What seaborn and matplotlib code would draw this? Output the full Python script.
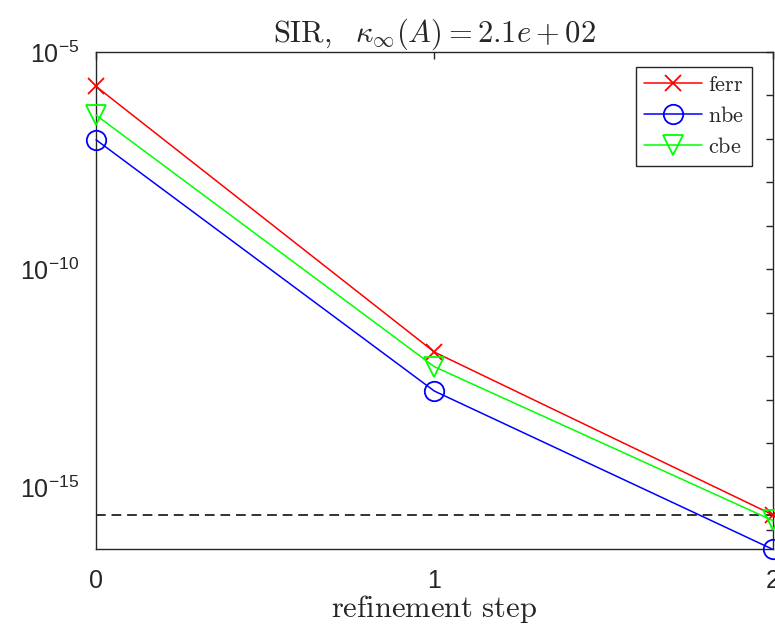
import numpy as np
import pandas as pd
import matplotlib
matplotlib.use("Agg")
import matplotlib.pyplot as plt
import seaborn as sns
from matplotlib.ticker import FixedLocator, FuncFormatter

steps = [0, 1, 2]
ferr = [1.6e-6, 1.26e-12, 2.3e-16]
nbe = [9.5e-8, 1.6e-13, 3.7e-17]
cbe = [3.5e-7, 5.8e-13, 1.7e-16]
eps_level = 2.22e-16
series_names = ["ferr", "nbe", "cbe"]
title_text = r"$\mathrm{SIR,}\ \ \kappa_\infty(A) = 2.1e+02$"
xlabel_text = r"$\mathrm{refinement\ step}$"

sns.set_theme(style="white")
plt.rcParams['font.family'] = ['Liberation Sans', 'DejaVu Sans']
plt.rcParams['mathtext.fontset'] = 'custom'
plt.rcParams['mathtext.rm'] = 'Liberation Sans'
plt.rcParams['mathtext.it'] = 'Liberation Sans:italic'
plt.rcParams['mathtext.bf'] = 'Liberation Sans:bold'

df = pd.DataFrame({
    "step": steps * 3,
    "value": ferr + nbe + cbe,
    "series": sum([[n] * 3 for n in series_names], []),
})

fig = plt.figure(figsize=(7.75, 6.32), dpi=100)
ax = fig.add_axes([0.124, 0.131, 0.873, 0.787])

styles = {
    "ferr": dict(color=(1, 0, 0), marker="x", markersize=11, mew=1.3),
    "nbe": dict(color=(0, 0, 1), marker="o", markersize=14, mew=1.3, mfc="none"),
    "cbe": dict(color=(0, 1, 0), marker="v", markersize=15, mew=1.3, mfc="none"),
}
for name in series_names:
    sub = df[df["series"] == name]
    st = styles[name]
    sns.lineplot(data=sub, x="step", y="value", ax=ax, color=st["color"],
                 marker=st["marker"], markersize=st["markersize"],
                 markeredgewidth=st["mew"], markeredgecolor=st["color"],
                 markerfacecolor=st.get("mfc", st["color"]),
                 linewidth=1.1, label=r"$\mathrm{%s}$" % name, clip_on=False,
                 zorder=3)

ax.axhline(eps_level, color="#333333", linestyle=(0, (5, 3)), linewidth=1.4, zorder=2)

ax.set_yscale("log")
ax.set_xlim(0, 2)
ax.set_ylim(10 ** -16.43, 1e-5)

ax.xaxis.set_major_locator(FixedLocator(steps))
ax.set_xticklabels([str(s) for s in steps])
ax.yaxis.set_major_locator(FixedLocator([10.0 ** k for k in range(-16, -4)]))
ax.yaxis.set_minor_locator(FixedLocator([]))

def yfmt(v, pos):
    k = int(round(np.log10(v)))
    if k % 5 == 0:
        return r"$10^{%d}$" % k
    return ""
ax.yaxis.set_major_formatter(FuncFormatter(yfmt))

ax.tick_params(axis="both", which="major", direction="in", length=5, width=1.0,
               top=True, right=True, labelsize=18, labelcolor="#262626", color="#262626")
ax.tick_params(axis="x", pad=14)
ax.tick_params(axis="y", pad=12)
for sp in ax.spines.values():
    sp.set_visible(True)
    sp.set_color("#262626")
    sp.set_linewidth(1.0)

t = ax.set_title(title_text, fontsize=22, pad=7)
t.set_math_fontfamily("cm")
xl = ax.set_xlabel(xlabel_text, fontsize=22, labelpad=0)
xl.set_math_fontfamily("cm")
ax.set_ylabel("")

leg = ax.legend(loc="upper right", bbox_to_anchor=(0.976, 0.978), fontsize=16,
                frameon=True, fancybox=False, framealpha=1, edgecolor="#262626",
                handlelength=2.6, borderpad=0.35, labelspacing=0.45, handletextpad=0.3,
                borderaxespad=0.2)
leg.get_frame().set_linewidth(1.0)
for tx in leg.get_texts():
    tx.set_math_fontfamily("cm")

fig.savefig("out.png", dpi=100, facecolor="white")
